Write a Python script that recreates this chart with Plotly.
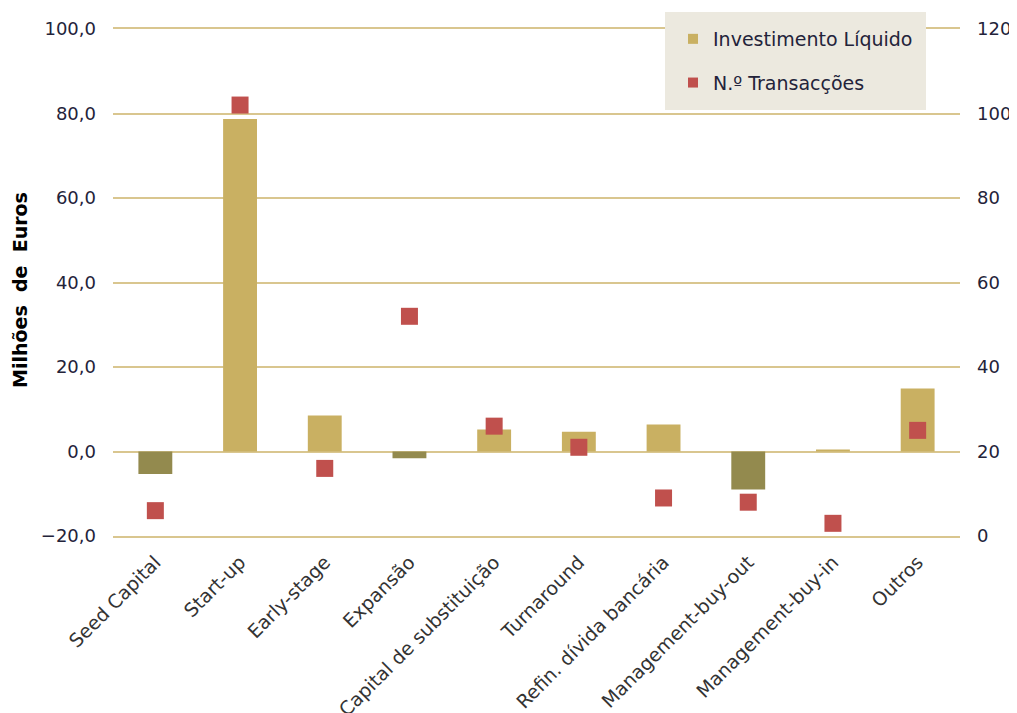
import plotly.graph_objects as go

categories = ["Seed Capital", "Start-up", "Early-stage", "Expansão", "Capital de substituição",
              "Turnaround", "Refin. dívida bancária", "Management-buy-out", "Management-buy-in", "Outros"]
investimento = [-5.3, 78.7, 8.5, -1.6, 5.2, 4.7, 6.4, -9.0, 0.5, 14.9]
transaccoes = [6, 102, 16, 52, 26, 21, 9, 8, 3, 25]
left_ticks = [-20, 0, 20, 40, 60, 80, 100]
right_ticks = [0, 20, 40, 60, 80, 100, 120]

pos_color = "#C9B062"
neg_color = "#938A4E"
mark_color = "#C0504D"
grid_color = "#D9C68F"
legend_bg = "#ECE9DF"
bar_colors = [pos_color if v >= 0 else neg_color for v in investimento]

fig = go.Figure()
fig.add_trace(go.Bar(x=categories, y=investimento, name="Investimento Líquido",
                     marker=dict(color=bar_colors, line=dict(width=0)), width=0.4,
                     yaxis="y", showlegend=False))
fig.add_trace(go.Scatter(x=categories, y=transaccoes, name="N.º Transacções", mode="markers",
                         marker=dict(symbol="square", size=17, color=mark_color),
                         yaxis="y2", showlegend=False))
# legend entries
fig.add_trace(go.Scatter(x=[None], y=[None], name="Investimento Líquido", mode="markers",
                         marker=dict(symbol="square", size=10, color=pos_color),
                         yaxis="y", legendgroup="a"))
fig.add_trace(go.Scatter(x=[None], y=[None], name="N.º Transacções", mode="markers",
                         marker=dict(symbol="square", size=10, color=mark_color),
                         yaxis="y2", legendgroup="b"))

font_fam = "Verdana, DejaVu Sans, sans-serif"
text_color = "#23233a"
L, R, T, B = 105, 65, 21, 185
pw, ph = 1017 - L - R, 713 - T - B
fig.update_layout(
    width=1017, height=713,
    margin=dict(l=L, r=R, t=T, b=B, autoexpand=False),
    paper_bgcolor="white", plot_bgcolor="white",
    separators=",.",
    font=dict(family=font_fam, size=18, color=text_color),
    showlegend=True,
    legend=dict(x=(657 - L) / pw, y=(ph + T - 4) / ph,
                xanchor="left", yanchor="top",
                bgcolor=legend_bg, bordercolor=legend_bg, borderwidth=8,
                font=dict(size=19, color=text_color),
                itemwidth=30, tracegroupgap=16),
    xaxis=dict(range=[-0.5, len(categories) - 0.5],
               tickangle=-45, tickfont=dict(size=19, color="#333333"), showgrid=False,
               showline=True, mirror=True, linecolor=grid_color, linewidth=1.5,
               ticks="", zeroline=False, automargin=False, ticklabelstandoff=6,
               categoryorder="array", categoryarray=categories),
    yaxis=dict(range=[-20, 100], tickvals=left_ticks, tickformat=".1f",
               showgrid=True, gridcolor=grid_color, gridwidth=1.5,
               zeroline=True, zerolinecolor=grid_color, zerolinewidth=1.5,
               showline=False, ticks="", automargin=False, ticklabelstandoff=16),
    yaxis2=dict(range=[0, 120], tickvals=right_ticks, overlaying="y", side="right",
                showgrid=False, zeroline=False, showline=False, ticks="", automargin=False,
                ticklabelstandoff=16),
    annotations=[dict(text="<b>Milhões  de  Euros</b>", xref="paper", yref="paper",
                      x=-(L - 12) / pw, y=(528 - 282) / ph, xanchor="center", yanchor="middle",
                      textangle=-90, showarrow=False, font=dict(size=19, color="black"))],
)

fig.write_html("out.html")
